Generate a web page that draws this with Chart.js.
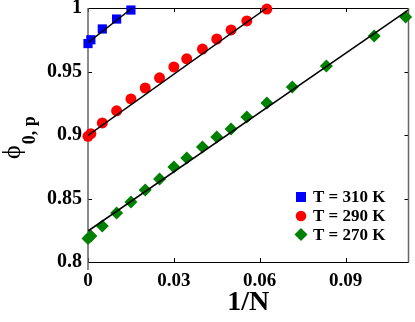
<!DOCTYPE html>
<html><head><meta charset="utf-8">
<script src="https://cdn.jsdelivr.net/npm/chart.js@4"></script>
<style>html,body{margin:0;padding:0;background:#fff;overflow:hidden}#wrap{width:415px;height:322px}</style>
</head><body><div id="wrap"><canvas id="c" width="415" height="322"></canvas></div>
<script>
// ---- data ----
const seriesLabels = ['T = 310 K', 'T = 290 K', 'T = 270 K'];
const x310 = [0, 0.001, 0.005, 0.01, 0.015];
const y310 = [0.972, 0.975, 0.9835, 0.9913, 0.9984];
const x290 = [0, 0.001, 0.005, 0.01, 0.015, 0.02, 0.025, 0.03, 0.0345, 0.04, 0.045, 0.05, 0.0555, 0.0625];
const y290 = [0.899, 0.901, 0.9095, 0.919, 0.9284, 0.937, 0.945, 0.9536, 0.96, 0.9677, 0.9756, 0.9827, 0.9898, 0.9992];
const x270 = [0, 0.001, 0.005, 0.01, 0.015, 0.02, 0.025, 0.03, 0.0345, 0.04, 0.045, 0.05, 0.0555, 0.0625, 0.0714, 0.0833, 0.1, 0.111];
const y270 = [0.8185, 0.8205, 0.8283, 0.8386, 0.8472, 0.8567, 0.8654, 0.8748, 0.8819, 0.8906, 0.8984, 0.9047, 0.9142, 0.9252, 0.9378, 0.9543, 0.978, 0.9929];
const fitX310 = [0, 0.0155], fitY310 = [0.9727, 1.0];
const fitX290 = [0, 0.0625], fitY290 = [0.8997, 1.0];
const fitX270 = [0, 0.112], fitY270 = [0.8244, 0.9985];
const xTicks = [0, 0.03, 0.06, 0.09];
const xTickLabels = ['0', '0.03', '0.06', '0.09'];
const yTicks = [0.8, 0.85, 0.9, 0.95, 1];
const yTickLabels = ['0.8', '0.85', '0.9', '0.95', '1'];
const xTitle = '1/N';
const yTitleMain = 'ϕ';
const yTitleSub = '0, p';

const SERIF = "'Liberation Serif', 'Times New Roman', serif";
const pts = (xs, ys) => xs.map((x, i) => ({x, y: ys[i]}));

const colors = ['#0000ff', '#ff0000', '#008000'];
const styles = ['rect', 'circle', 'rectRot'];
const radii = [6.5, 5.5, 6.5];

const pointSets = [[x310, y310], [x290, y290], [x270, y270]];
const fitSets = [[fitX310, fitY310], [fitX290, fitY290], [fitX270, fitY270]];

const datasets = [];
fitSets.forEach(([fx, fy]) => datasets.push({
  type: 'line', data: pts(fx, fy), borderColor: '#000', borderWidth: 1.5,
  pointRadius: 0, fill: false, order: 0, isFit: true
}));
pointSets.forEach(([xs, ys], i) => datasets.push({
  label: seriesLabels[i], data: pts(xs, ys), showLine: false,
  pointStyle: styles[i], pointRadius: radii[i], backgroundColor: colors[i],
  borderColor: colors[i], borderWidth: 0, clip: false, order: 1
}));

const framePlugin = {
  id: 'frame',
  beforeDatasetsDraw(chart) {
    const {ctx, chartArea: a, scales: {x, y}} = chart;
    ctx.save();
    ctx.strokeStyle = '#000'; ctx.lineWidth = 1;
    const tl = 4;
    xTicks.forEach(v => {
      const px = Math.round(x.getPixelForValue(v)) + 0.5;
      ctx.beginPath(); ctx.moveTo(px, a.bottom); ctx.lineTo(px, a.bottom - tl);
      ctx.moveTo(px, a.top); ctx.lineTo(px, a.top + tl); ctx.stroke();
    });
    yTicks.forEach(v => {
      const py = Math.round(y.getPixelForValue(v)) + 0.5;
      ctx.beginPath(); ctx.moveTo(a.left, py); ctx.lineTo(a.left + tl, py);
      ctx.moveTo(a.right, py); ctx.lineTo(a.right - tl, py); ctx.stroke();
    });
    ctx.strokeStyle = '#000'; ctx.lineWidth = 1;
    ctx.beginPath();
    ctx.moveTo(a.left, Math.round(a.top) + 0.5); ctx.lineTo(a.right, Math.round(a.top) + 0.5);
    ctx.moveTo(a.left, Math.round(a.bottom) + 0.5); ctx.lineTo(a.right, Math.round(a.bottom) + 0.5);
    ctx.stroke();
    ctx.strokeStyle = '#666'; ctx.lineWidth = 1.5;
    ctx.beginPath();
    ctx.moveTo(a.left, a.top); ctx.lineTo(a.left, a.bottom + 8);
    ctx.moveTo(a.right, a.top); ctx.lineTo(a.right, a.bottom);
    ctx.stroke();
    ctx.restore();
  },
  afterDraw(chart) {
    const {ctx, chartArea: a} = chart;
    ctx.save();
    ctx.fillStyle = '#000';
    ctx.font = `bold 28px ${SERIF}`;
    ctx.textAlign = 'center'; ctx.textBaseline = 'alphabetic';
    ctx.fillText(xTitle, (a.left + a.right) / 2, 310);
    ctx.save();
    ctx.translate(20, 159);
    ctx.rotate(-Math.PI / 2);
    ctx.textAlign = 'left';
    ctx.font = `26px ${SERIF}`;
    ctx.fillText(yTitleMain, 0, 0);
    const w = ctx.measureText(yTitleMain).width;
    ctx.font = `bold 18px ${SERIF}`;
    ctx.fillText(yTitleSub, w + 1, 15);
    ctx.restore();
    const lx = 301, ly = [197, 216, 234.5];
    chart.data.datasets.filter(d => !d.isFit).forEach((d, i) => {
      ctx.fillStyle = d.backgroundColor;
      const cy = ly[i];
      ctx.beginPath();
      if (d.pointStyle === 'rect') ctx.rect(lx - 5, cy - 5, 10, 10);
      else if (d.pointStyle === 'circle') ctx.arc(lx, cy, 5.3, 0, Math.PI * 2);
      else { ctx.moveTo(lx, cy - 6.5); ctx.lineTo(lx + 6.5, cy); ctx.lineTo(lx, cy + 6.5); ctx.lineTo(lx - 6.5, cy); ctx.closePath(); }
      ctx.fill();
      ctx.fillStyle = '#000';
      ctx.font = `bold 17px ${SERIF}`;
      ctx.textAlign = 'left'; ctx.textBaseline = 'middle';
      ctx.fillText(d.label, 313, cy + 1);
    });
    ctx.restore();
  }
};

new Chart(document.getElementById('c'), {
  type: 'scatter',
  data: {datasets},
  options: {
    responsive: false, animation: false, devicePixelRatio: 1,
    layout: {padding: {left: 0, top: 8, right: 6, bottom: 0}},
    plugins: {legend: {display: false}, tooltip: {enabled: false}},
    scales: {
      x: {
        type: 'linear', min: 0, max: 0.112,
        afterFit: s => { s.height = 60; s.paddingLeft = 0; s.paddingRight = 0; },
        afterBuildTicks: s => { s.ticks = xTicks.map(v => ({value: v})); },
        grid: {display: false, drawTicks: false},
        border: {display: false},
        ticks: {
          padding: 8, color: '#000', maxRotation: 0, autoSkip: false,
          font: {family: SERIF, size: 19, weight: 'bold'},
          callback: v => xTickLabels[xTicks.indexOf(v)]
        }
      },
      y: {
        type: 'linear', min: 0.8, max: 1,
        afterFit: s => { s.width = 88; s.paddingTop = 0; s.paddingBottom = 0; },
        afterBuildTicks: s => { s.ticks = yTicks.map(v => ({value: v})); },
        grid: {display: false, drawTicks: false},
        border: {display: false},
        ticks: {
          padding: 6, color: '#000', autoSkip: false,
          font: {family: SERIF, size: 20, weight: 'bold'},
          callback: v => yTickLabels[yTicks.indexOf(v)]
        }
      }
    }
  },
  plugins: [framePlugin]
});
</script></body></html>
